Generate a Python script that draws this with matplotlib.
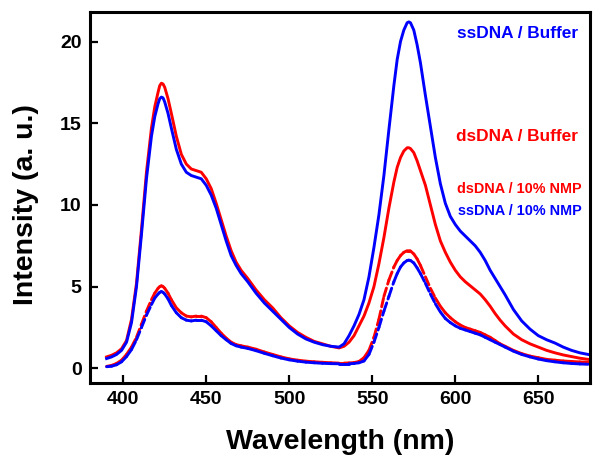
import numpy as np
import matplotlib
matplotlib.use("Agg")
import matplotlib.pyplot as plt
from matplotlib.collections import LineCollection

# wavelength grid (nm)
wl = [390, 393, 396, 399, 402, 405, 408, 411, 414, 417, 419, 421, 422, 423, 424,
      425, 427, 429, 432, 435, 438, 441, 444, 447, 450, 453, 456, 459, 462, 465,
      468, 471, 475, 480, 485, 490, 495, 500, 505, 510, 515, 520, 525, 530, 533,
      536, 539, 542, 545, 548, 551, 554, 557, 560, 563, 565, 567, 569, 571, 572,
      573, 575, 577, 579, 582, 585, 588, 591, 594, 597, 600, 603, 606, 609, 612,
      615, 618, 621, 624, 627, 630, 635, 640, 645, 650, 655, 660, 665, 670, 675, 680]

ss_buffer = [0.6, 0.7, 0.85, 1.1, 1.6, 2.8, 5.0, 8.2, 11.6, 14.2, 15.4, 16.2, 16.5, 16.6, 16.55,
             16.3, 15.6, 14.7, 13.4, 12.5, 12.0, 11.8, 11.7, 11.6, 11.2, 10.6, 9.8, 8.8, 7.8, 6.9,
             6.3, 5.8, 5.3, 4.6, 4.0, 3.5, 3.0, 2.5, 2.1, 1.8, 1.6, 1.45, 1.35, 1.3, 1.5,
             2.0, 2.6, 3.3, 4.2, 5.6, 7.4, 9.4, 11.8, 14.6, 17.3, 18.9, 20.0, 20.7, 21.15, 21.2,
             21.15, 20.7, 19.8, 18.7, 16.7, 14.8, 12.9, 11.3, 10.1, 9.3, 8.8, 8.4, 8.1, 7.8, 7.5,
             7.1, 6.6, 6.0, 5.5, 5.0, 4.5, 3.6, 2.9, 2.4, 2.0, 1.75, 1.55, 1.3, 1.1, 0.95, 0.85]

ds_buffer = [0.7, 0.8, 0.95, 1.2, 1.7, 3.0, 5.2, 8.5, 12.0, 14.7, 16.0, 16.9, 17.3, 17.45, 17.4,
             17.2, 16.5, 15.6, 14.2, 13.1, 12.5, 12.2, 12.1, 12.0, 11.6, 11.0, 10.1, 9.1, 8.1, 7.2,
             6.5, 6.0, 5.5, 4.8, 4.2, 3.7, 3.1, 2.6, 2.2, 1.9, 1.65, 1.5, 1.35, 1.25, 1.35,
             1.6, 2.0, 2.6, 3.2, 4.0, 5.0, 6.4, 8.0, 9.8, 11.4, 12.3, 12.9, 13.3, 13.5, 13.5,
             13.45, 13.2, 12.7, 12.1, 11.2, 10.0, 8.8, 7.8, 7.1, 6.5, 6.0, 5.6, 5.3, 5.05, 4.8,
             4.55, 4.2, 3.8, 3.35, 2.95, 2.6, 2.1, 1.75, 1.5, 1.3, 1.1, 0.95, 0.82, 0.72, 0.62, 0.55]

ds_nmp = [0.12, 0.18, 0.3, 0.5, 0.85, 1.3, 1.9, 2.7, 3.5, 4.2, 4.6, 4.9, 5.0, 5.05, 5.0,
          4.9, 4.6, 4.2, 3.7, 3.4, 3.2, 3.15, 3.2, 3.2, 3.1, 2.85, 2.5, 2.15, 1.85, 1.6,
          1.45, 1.38, 1.3, 1.17, 1.0, 0.85, 0.7, 0.58, 0.5, 0.44, 0.4, 0.37, 0.34, 0.32, 0.32,
          0.33, 0.35, 0.42, 0.65, 1.1, 1.9, 3.0, 4.4, 5.4, 6.2, 6.6, 6.9, 7.1, 7.2, 7.2,
          7.18, 7.0, 6.7, 6.3, 5.6, 4.9, 4.3, 3.8, 3.4, 3.1, 2.85, 2.65, 2.5, 2.4, 2.3,
          2.2, 2.05, 1.9, 1.7, 1.5, 1.35, 1.1, 0.9, 0.75, 0.65, 0.55, 0.5, 0.45, 0.42, 0.39, 0.37]

ss_nmp = [0.1, 0.13, 0.22, 0.4, 0.72, 1.15, 1.75, 2.5, 3.25, 3.9, 4.3, 4.55, 4.65, 4.7, 4.65,
          4.55, 4.25, 3.85, 3.4, 3.1, 2.95, 2.9, 2.95, 2.95, 2.85, 2.6, 2.3, 2.0, 1.75, 1.52,
          1.38, 1.3, 1.22, 1.08, 0.92, 0.77, 0.63, 0.52, 0.44, 0.38, 0.34, 0.31, 0.29, 0.28, 0.28,
          0.28, 0.3, 0.34, 0.45, 0.85, 1.6, 2.5, 3.5, 4.4, 5.3, 5.8, 6.2, 6.45, 6.6, 6.62,
          6.6, 6.45, 6.15, 5.8, 5.2, 4.55, 3.95, 3.45, 3.05, 2.8, 2.6, 2.45, 2.35, 2.25, 2.15,
          2.05, 1.9, 1.75, 1.6, 1.45, 1.3, 1.05, 0.85, 0.7, 0.57, 0.47, 0.4, 0.34, 0.3, 0.27, 0.25]

plt.rcParams['font.family'] = ['Liberation Sans', 'DejaVu Sans']
plt.rcParams['font.weight'] = 'bold'

fig = plt.figure(figsize=(6, 4.66), dpi=100)
ax = fig.add_axes([0.15, 0.178, 0.833, 0.796])


def dashed(x, y, color):
    # dash pattern restarts on every segment, so flat parts look solid
    pts = np.column_stack([x, y])
    segs = np.stack([pts[:-1], pts[1:]], axis=1)
    lc = LineCollection(segs, colors=color, linewidths=2.1,
                        linestyles=(0, (3.0, 1.4)), capstyle='round')
    ax.add_collection(lc)


dashed(wl, ds_nmp, 'red')
dashed(wl, ss_nmp, 'blue')
ax.plot(wl, ds_buffer, color='red', lw=2.1)
ax.plot(wl, ss_buffer, color='blue', lw=2.1)

ax.set_xlim(380, 681)
ax.set_ylim(-0.9, 21.8)
ax.set_xticks([400, 450, 500, 550, 600, 650])
ax.set_yticks([0, 5, 10, 15, 20])
ax.tick_params(direction='in', length=6, width=1.6, labelsize=14,
               top=False, right=False, pad=6)
for sp in ax.spines.values():
    sp.set_linewidth(2.2)

ax.set_xlabel('Wavelength (nm)', fontsize=20.5, fontweight='bold', labelpad=15)
ax.set_ylabel('Intensity (a. u.)', fontsize=20.5, fontweight='bold')
ax.yaxis.set_label_coords(-0.103, 0.48)

ax.text(674, 20.5, 'ssDNA / Buffer', color='blue', fontsize=12.4,
        fontweight='bold', ha='right', va='center')
ax.text(674, 14.2, 'dsDNA / Buffer', color='red', fontsize=12.4,
        fontweight='bold', ha='right', va='center')
ax.text(676, 11.0, 'dsDNA / 10% NMP', color='red', fontsize=10.4,
        fontweight='bold', ha='right', va='center')
ax.text(676, 9.65, 'ssDNA / 10% NMP', color='blue', fontsize=10.4,
        fontweight='bold', ha='right', va='center')

fig.savefig('out.png', dpi=100)
